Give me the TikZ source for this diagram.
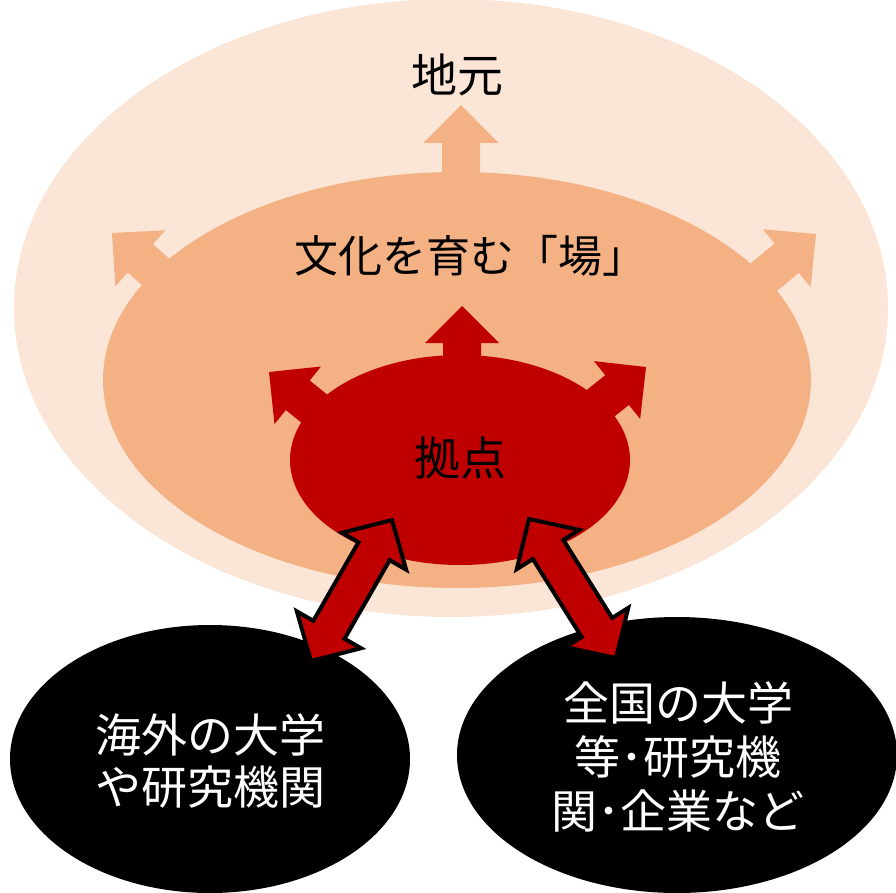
\documentclass[tikz,border=0pt]{standalone}
\usepackage{fontspec}
\newfontfamily\jp{Noto Sans CJK JP}
\usetikzlibrary{calc}
\definecolor{outerc}{HTML}{FBE5D6}
\definecolor{midc}{HTML}{F4B183}
\definecolor{redc}{HTML}{C00000}
\tikzset{
  lbl/.style={font=\jp\fontsize{46}{52}\selectfont, align=center, inner sep=0pt},
}
% single arrow polygon: #1 style, #2 start, #3 tip, #4 head length, #5 head half, #6 shaft half
\newcommand{\myarrow}[6]{%
  \coordinate (hb) at ($(#3)!#4!(#2)$);
  \fill[#1] ($(#2)!#6!90:(#3)$) -- ($(hb)!#6!90:(#3)$) -- ($(hb)!#5!90:(#3)$) -- (#3)
    -- ($(hb)!#5!-90:(#3)$) -- ($(hb)!#6!-90:(#3)$) -- ($(#2)!#6!-90:(#3)$) -- cycle;
}
% double arrow: #1 tip a, #2 tip b
\newcommand{\mydarrow}[2]{%
  \coordinate (ha) at ($(#1)!36pt!(#2)$);
  \coordinate (hz) at ($(#2)!36pt!(#1)$);
  \filldraw[fill=redc, draw=black, line width=4pt, line join=miter, miter limit=10]
    (#1) -- ($(ha)!37pt!90:(#1)$) -- ($(ha)!18pt!90:(#1)$) -- ($(hz)!18pt!90:(#1)$)
    -- ($(hz)!37pt!90:(#1)$) -- (#2) -- ($(hz)!37pt!-90:(#1)$) -- ($(hz)!18pt!-90:(#1)$)
    -- ($(ha)!18pt!-90:(#1)$) -- ($(ha)!37pt!-90:(#1)$) -- cycle;
}
\begin{document}
\begin{tikzpicture}[x=1pt,y=-1pt]
\useasboundingbox (0,0) rectangle (896,893);
% outer
\fill[outerc] (451,308) ellipse [x radius=437, y radius=309];
% light arrows
\coordinate (la1s) at (461,200); \coordinate (la1t) at (461,105);
\coordinate (la2s) at (196,308); \coordinate (la2t) at (112,233);
\coordinate (la3s) at (729,306); \coordinate (la3t) at (816,234);
\myarrow{midc}{la1s}{la1t}{38pt}{37.5pt}{19pt}
\myarrow{midc}{la2s}{la2t}{38pt}{37.5pt}{19pt}
\myarrow{midc}{la3s}{la3t}{38pt}{37.5pt}{19pt}
% middle
\fill[midc] (457,380) ellipse [x radius=354, y radius=208];
% red arrows
\coordinate (ra1s) at (462,400); \coordinate (ra1t) at (462,306);
\coordinate (ra2s) at (358,444); \coordinate (ra2t) at (269,372);
\coordinate (ra3s) at (557,438); \coordinate (ra3t) at (646,367);
\myarrow{redc}{ra1s}{ra1t}{37pt}{37pt}{19pt}
\myarrow{redc}{ra2s}{ra2t}{37pt}{37pt}{19pt}
\myarrow{redc}{ra3s}{ra3t}{37pt}{37pt}{19pt}
% inner
\fill[redc] (460,460) ellipse [x radius=170, y radius=105];
% black ellipses
\fill[black] (210,759) ellipse [x radius=200, y radius=134];
\fill[black] (677,755) ellipse [x radius=220, y radius=138];
% double arrows
\coordinate (d1a) at (392,520); \coordinate (d1b) at (311,661);
\coordinate (d2a) at (529,519); \coordinate (d2b) at (616,658);
\mydarrow{d1a}{d1b}
\mydarrow{d2a}{d2b}
% labels
\node[lbl] (jimoto) at (457,75) {地元};
\node[lbl, font=\jp\fontsize{44}{52}\selectfont] (ba) at (470,256) {文化を育む「場」};
\node[lbl] (kyoten) at (460,458) {拠点};
\node[lbl, text=white] (kaigai) at (210,761) {海外の大学\\や研究機関};
\node[lbl, text=white, font=\jp\fontsize{46}{54}\selectfont] (zenkoku) at (678,757) {全国の大学\\等･研究機\\関･企業など};
\end{tikzpicture}
\end{document}
